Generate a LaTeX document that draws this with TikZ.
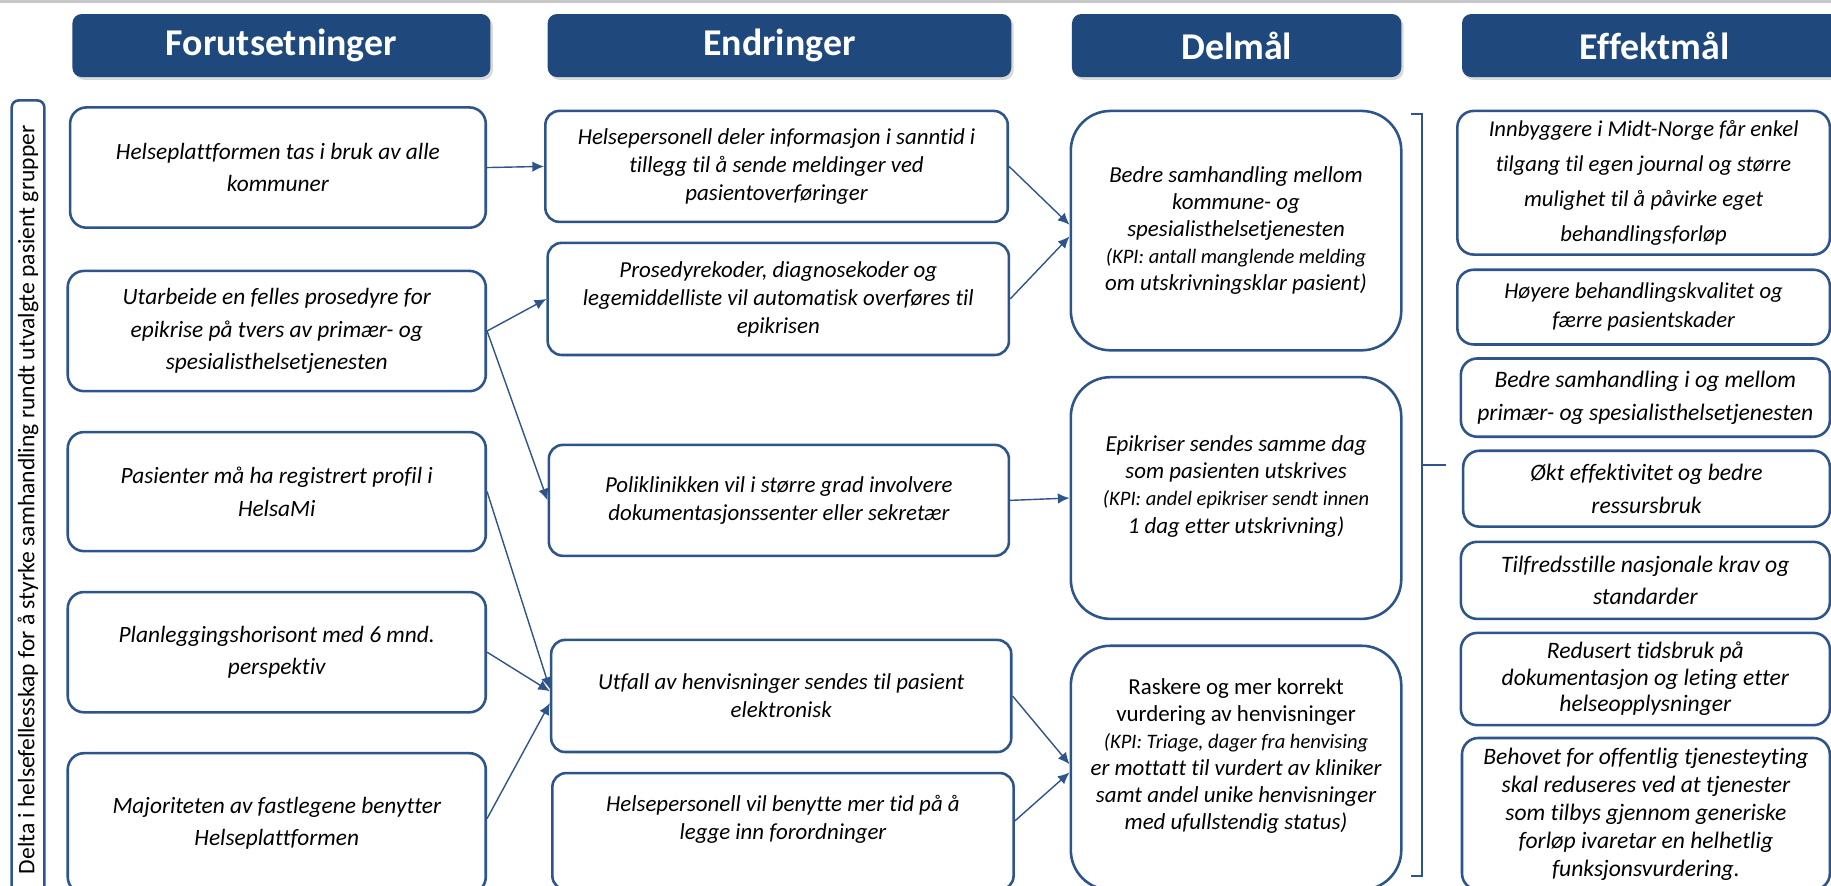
\documentclass[tikz,border=0pt]{standalone}
\usepackage{fontspec}
\setmainfont{Carlito}[Ligatures=CommonOff]
\usetikzlibrary{arrows.meta,shadows}
\definecolor{hdrblue}{RGB}{31,73,125}
\definecolor{linblue}{RGB}{46,84,140}

\begin{document}
\begin{tikzpicture}[x=0.5pt,y=-0.5pt,
  sz/.style 2 args={minimum width=#1*0.5pt,minimum height=#2*0.5pt},
  hdr/.style={fill=hdrblue,rounded corners=4pt,text=white,inner sep=0pt,font=\fontsize{16.2}{18}\selectfont\bfseries,drop shadow={opacity=0.3,shadow xshift=1pt,shadow yshift=-1.2pt}},
  card/.style={draw=linblue,line width=1.1pt,fill=white,align=center,inner sep=0pt},
  pre/.style={card,rounded corners=7pt,font=\fontsize{10}{14}\selectfont\itshape},
  chg/.style={card,rounded corners=6pt,font=\fontsize{9.8}{12}\selectfont\itshape},
  sub/.style={card,rounded corners=17pt,font=\fontsize{9.8}{11.6}\selectfont\itshape},
  eff/.style={card,rounded corners=7pt,font=\fontsize{10.1}{14}\selectfont\itshape},
  side/.style={draw=linblue,line width=1.1pt,rounded corners=3pt,inner sep=0pt,font=\fontsize{10.1}{11}\selectfont},
  arr/.style={-{Latex[length=5pt,width=4.5pt]},draw=linblue,line width=0.6pt},
  brk/.style={draw=linblue,line width=0.9pt}]
\useasboundingbox (0,0) rectangle (1568,758);
\clip (0,0) rectangle (1568,758);
\fill[black!22] (0,0) rectangle (1568,3);

\foreach \n/\x/\w/\t in {h1/241/358/Forutsetninger,h2/667.5/397/Endringer,h3/1059/282/Delmål,h4/1417/330/Effektmål} {
  \node[hdr,sz={\w}{54}] (\n) at (\x,39) {\t};
}

\node[side,rotate=90,minimum width=342pt,minimum height=14pt] (band) at (24,428)
  {Delta i helsefellesskap for å styrke samhandling rundt utvalgte pasient grupper\hspace{6pt}};

\node[pre,sz={356}{103}] (l1) at (238,143.5) {Helseplattformen tas i bruk av alle\\kommuner};
\node[pre,sz={358}{103}] (l2) at (237,283.5) {Utarbeide en felles prosedyre for\\epikrise på tvers av primær- og\\spesialisthelsetjenesten};
\node[pre,sz={358}{102}] (l3) at (237,421) {Pasienter må ha registrert profil i\\HelsaMi};
\node[pre,sz={358}{103}] (l4) at (237,558.5) {Planleggingshorisont med 6 mnd.\\perspektiv};
\node[pre,sz={358}{120}] (l5) at (237,705) {Majoriteten av fastlegene benytter\\Helseplattformen};

\node[chg,sz={396}{95}] (e1) at (665,142.5) {Helsepersonell deler informasjon i sanntid i\\tillegg til å sende meldinger ved\\pasientoverføringer};
\node[chg,sz={395}{96}] (e2) at (666.5,256) {Prosedyrekoder, diagnosekoder og\\legemiddelliste vil automatisk overføres til\\epikrisen};
\node[chg,sz={394}{95}] (e3) at (667,428.5) {Poliklinikken vil i større grad involvere\\dokumentasjonssenter eller sekretær};
\node[chg,sz={394}{96}] (e4) at (669,596) {Utfall av henvisninger sendes til pasient\\elektronisk};
\node[chg,sz={395}{100}] (e5) at (670.5,712) {Helsepersonell vil benytte mer tid på å\\legge inn forordninger\\\mbox{}};

\node[sub,sz={283}{205}] (d1) at (1058.5,197.5) {Bedre samhandling mellom\\kommune- og\\spesialisthelsetjenesten\\\fontsize{8.8}{11.6}\selectfont(KPI: antall manglende melding\\om utskrivningsklar pasient)};
\node[sub,sz={283}{207}] (d2) at (1058.5,426.5) {Epikriser sendes samme dag\\som pasienten utskrives\\\fontsize{8.8}{11.6}\selectfont(KPI: andel epikriser sendt innen\\1 dag etter utskrivning)\\\mbox{}};
\node[sub,sz={283}{209}] (d3) at (1058.5,657.5) {\upshape Raskere og mer korrekt\\\upshape vurdering av henvisninger\\\fontsize{8.8}{11.6}\selectfont(KPI: Triage, dager fra henvising\\er mottatt til vurdert av kliniker\\samt andel unike henvisninger\\med ufullstendig status)\\\mbox{}};

\node[eff,sz={319}{123},font=\fontsize{9.7}{15}\selectfont\itshape] (f1) at (1407.5,156.5) {Innbyggere i Midt-Norge får enkel\\tilgang til egen journal og større\\mulighet til å påvirke eget\\behandlingsforløp};
\node[eff,sz={319}{64},font=\fontsize{9.7}{12.5}\selectfont\itshape] (f2) at (1407.5,263) {Høyere behandlingskvalitet og\\færre pasientskader};
\node[eff,sz={316}{67}] (f3) at (1409,340.5) {Bedre samhandling i og mellom\\primær- og spesialisthelsetjenesten};
\node[eff,sz={314}{65}] (f4) at (1410,418.5) {Økt effektivitet og bedre\\ressursbruk};
\node[eff,sz={316}{66}] (f5) at (1409,497) {Tilfredsstille nasjonale krav og\\standarder};
\node[eff,sz={316}{79},font=\fontsize{10.1}{11.3}\selectfont\itshape] (f6) at (1409,581.5) {Redusert tidsbruk på\\dokumentasjon og leting etter\\helseopplysninger};
\node[eff,sz={315}{130},font=\fontsize{10.1}{12}\selectfont\itshape] (f7) at (1409.5,697) {Behovet for offentlig tjenesteyting\\skal reduseres ved at tjenester\\som tilbys gjennom generiske\\forløp ivaretar en helhetlig\\funksjonsvurdering.};

\draw[arr] (l1.east) -- (e1.west);
\draw[arr] (l2.east) -- (e2.west);
\draw[arr] (l2.east) -- (e3.west);
\draw[arr] (l3.east) -- ([yshift=3pt]e4.west);
\draw[arr] (l4.east) -- ([yshift=2pt]e4.west);
\draw[arr] ([yshift=2pt]l5.east) -- ([yshift=-3pt]e4.west);
\draw[arr] (e1.east) -- ([yshift=2.5pt]d1.west);
\draw[arr] (e2.east) -- ([yshift=-2.5pt]d1.west);
\draw[arr] (e3.east) -- (d2.west);
\draw[arr] (e4.east) -- ([yshift=1.5pt]d3.west);
\draw[arr] ([yshift=4.5pt]e5.east) -- ([yshift=-2pt]d3.west);

\draw[brk] (1208,98) -- (1218,98) -- (1218,750) -- (1208,750);
\draw[brk] (1218,398) -- (1238,398);
\end{tikzpicture}
\end{document}
